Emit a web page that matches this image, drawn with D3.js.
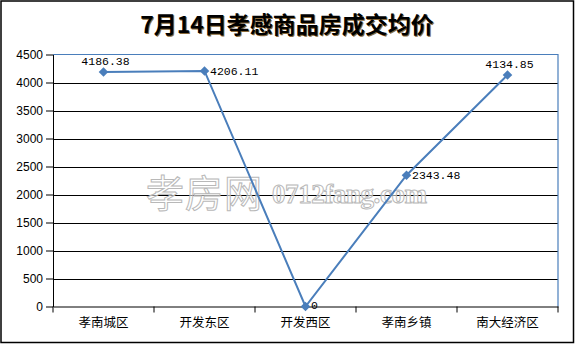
<!DOCTYPE html>
<html lang="zh">
<head>
  <meta charset="UTF-8">
  <title>7月14日孝感商品房成交均价</title>
  <script src="https://d3js.org/d3.v7.min.js"></script>
  <style>
    body { margin: 0; background: #fff; }
    svg { display: block; }
  </style>
</head>
<body>
  <svg id="chart" width="575" height="344"></svg>
  <script>
    // 数据
    const categories = ['孝南城区', '开发东区', '开发西区', '孝南乡镇', '南大经济区'];
    const prices = [4186.38, 4206.11, 0, 2343.48, 4134.85];
    const labels = ['4186.38', '4206.11', '0', '2343.48', '4134.85'];
    const labelPos = ['top', 'right', 'right', 'right', 'top'];
    const yTicks = [0, 500, 1000, 1500, 2000, 2500, 3000, 3500, 4000, 4500];

    const svg = d3.select('#chart');
    const width = 575, height = 344;
    const plot = { left: 53, right: 558, top: 54.5, bottom: 306.5 };
    const blue = '#4a7ebb';

    svg.append('rect')
      .attr('x', 1).attr('y', 1)
      .attr('width', width - 2.5).attr('height', height - 2.5)
      .attr('fill', '#fff').attr('stroke', '#000').attr('stroke-width', 1.5);

    // 标题
    svg.append('text')
      .attr('x', 287).attr('y', 33)
      .attr('text-anchor', 'middle')
      .attr('font-family', '"Noto Sans CJK SC", sans-serif')
      .attr('font-weight', 'bold')
      .attr('font-size', 23)
      .attr('fill', '#000')
      .style('text-shadow', '1px 1px 0 #8a6a3a')
      .text('7月14日孝感商品房成交均价');

    const x = d3.scaleBand()
      .domain(categories)
      .range([plot.left, plot.right]);
    const y = d3.scaleLinear()
      .domain([0, 4500])
      .range([plot.bottom, plot.top]);

    // 网格线
    svg.append('g')
      .selectAll('line')
      .data(yTicks.filter(d => d > 0 && d < 4500))
      .join('line')
      .attr('x1', plot.left).attr('x2', plot.right)
      .attr('y1', d => Math.round(y(d)) + 0.5).attr('y2', d => Math.round(y(d)) + 0.5)
      .attr('stroke', '#000').attr('stroke-width', 1);

    // 绘图区边框（上、右）
    svg.append('path')
      .attr('d', `M${plot.left},${plot.top}H${plot.right}V${plot.bottom}`)
      .attr('fill', 'none').attr('stroke', blue).attr('stroke-width', 1.2);

    // 水印
    const wm = svg.append('g')
      .attr('fill', '#fff').attr('fill-opacity', 0.55)
      .attr('stroke', '#b8b8b8').attr('stroke-width', 1);
    wm.append('text')
      .attr('x', 146).attr('y', 207)
      .attr('font-family', '"Noto Sans CJK SC", sans-serif')
      .attr('font-size', 38)
      .attr('textLength', 116)
      .text('孝房网');
    wm.append('text')
      .attr('x', 272).attr('y', 203)
      .attr('font-family', '"Liberation Serif", serif')
      .attr('font-weight', 'bold')
      .attr('font-size', 27)
      .attr('textLength', 155)
      .text('0712fang.com');

    // 坐标轴
    const yAxis = svg.append('g')
      .attr('transform', `translate(${plot.left},0)`)
      .call(d3.axisLeft(y).tickValues(yTicks).tickSize(7).tickSizeOuter(0).tickFormat(d3.format('d')));
    yAxis.select('.domain').attr('stroke', '#000');
    yAxis.selectAll('.tick line').attr('stroke', '#000');
    yAxis.selectAll('text')
      .attr('font-family', '"Liberation Sans", Arial, sans-serif')
      .attr('font-size', 12).attr('fill', '#000').attr('x', -10);

    const xAxis = svg.append('g')
      .attr('transform', `translate(0,${plot.bottom})`)
      .call(d3.axisBottom(x).tickSize(0).tickSizeOuter(0));
    xAxis.select('.domain').attr('stroke', '#000');
    xAxis.selectAll('text')
      .attr('font-family', '"Noto Sans CJK SC", sans-serif')
      .attr('font-size', 12.5).attr('fill', '#000').attr('dy', '1.4em');
    // 分类刻度线
    const edges = categories.map(c => x(c)).concat([plot.right]);
    svg.append('g')
      .selectAll('line')
      .data(edges)
      .join('line')
      .attr('x1', d => d).attr('x2', d => d)
      .attr('y1', plot.bottom).attr('y2', plot.bottom + 6)
      .attr('stroke', '#000');

    // 折线
    const pts = categories.map((c, i) => [x(c) + x.bandwidth() / 2, y(prices[i])]);
    svg.append('path')
      .attr('d', d3.line()(pts))
      .attr('fill', 'none').attr('stroke', blue).attr('stroke-width', 2);

    svg.append('g')
      .selectAll('path')
      .data(pts)
      .join('path')
      .attr('transform', d => `translate(${d[0]},${d[1]}) rotate(45)`)
      .attr('d', d3.symbol(d3.symbolSquare, 46))
      .attr('fill', blue);

    // 数据标签
    svg.append('g')
      .selectAll('text')
      .data(pts)
      .join('text')
      .attr('x', (d, i) => labelPos[i] === 'top' ? d[0] + 2 : d[0] + 5.5)
      .attr('y', (d, i) => labelPos[i] === 'top' ? d[1] - 7 : d[1] + (prices[i] === 0 ? 2 : 4))
      .attr('text-anchor', (d, i) => labelPos[i] === 'top' ? 'middle' : 'start')
      .attr('font-family', '"Liberation Mono", "DejaVu Sans Mono", monospace')
      .attr('font-size', 11.5)
      .attr('fill', '#000')
      .text((d, i) => labels[i]);
  </script>
</body>
</html>
